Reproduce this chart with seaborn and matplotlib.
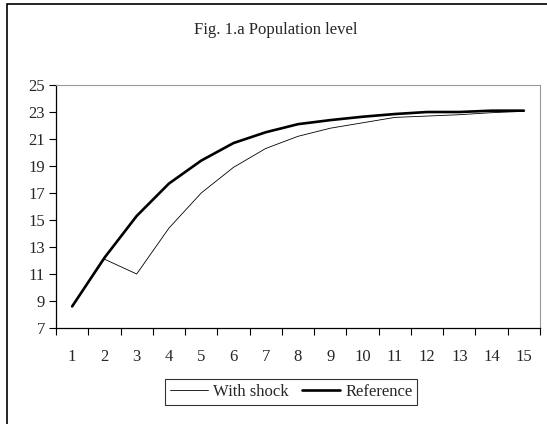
import pandas as pd
import numpy as np
import matplotlib
matplotlib.use('Agg')
import matplotlib.pyplot as plt
import matplotlib.patches as patches
from matplotlib.lines import Line2D
import seaborn as sns

# data
periods = list(range(1, 16))
with_shock = [8.6, 12.1, 11.0, 14.4, 17.0, 18.9, 20.3, 21.2, 21.8, 22.2, 22.6, 22.7, 22.8, 22.95, 23.05]
reference = [8.6, 12.2, 15.3, 17.7, 19.4, 20.7, 21.5, 22.1, 22.4, 22.65, 22.85, 23.0, 23.0, 23.1, 23.1]
y_ticks = [7, 9, 11, 13, 15, 17, 19, 21, 23, 25]

df = pd.DataFrame({'period': periods * 2,
                   'value': with_shock + reference,
                   'series': ['With shock'] * 15 + ['Reference'] * 15})

sns.set_style('white')
plt.rcParams['font.family'] = ['Liberation Serif', 'DejaVu Serif']

fig = plt.figure(figsize=(5.47, 4.24), dpi=100)
ax = fig.add_axes([0.1024, 0.2264, 0.8848, 0.5731])

sns.lineplot(data=df, x='period', y='value', hue='series', size='series',
             palette={'With shock': 'black', 'Reference': 'black'},
             sizes={'With shock': 0.6, 'Reference': 1.9},
             ax=ax, legend=False)

ax.set_xlim(0.5, 15.5)
ax.set_ylim(7, 25)
ax.set_yticks(y_ticks)
# category axis: ticks between categories, labels centred
ax.set_xticks(np.arange(0.5, 16, 1))
ax.set_xticklabels([])
ax.set_xticks(periods, minor=True)
ax.set_xticklabels([str(p) for p in periods], minor=True)
ax.tick_params(axis='x', which='major', direction='out', length=5, width=0.8, color='black', bottom=True)
ax.tick_params(axis='x', which='minor', length=0, pad=15, labelsize=12)
ax.tick_params(axis='y', direction='out', length=5, width=0.8, color='black', left=True, labelsize=12, pad=3)
ax.set_xlabel('')
ax.set_ylabel('')

for s in ['left', 'bottom']:
    ax.spines[s].set_color('black')
    ax.spines[s].set_linewidth(0.9)
for s in ['top', 'right']:
    ax.spines[s].set_color('#999999')
    ax.spines[s].set_linewidth(0.8)

fig.text(0.505, 0.93, 'Fig. 1.a Population level', ha='center', va='center', fontsize=12)

handles = [Line2D([], [], color='black', lw=0.6), Line2D([], [], color='black', lw=1.9)]
leg = fig.legend(handles, ['With shock', 'Reference'], loc='center',
                 ncol=2, fontsize=12, frameon=True, fancybox=False, handlelength=2.3,
                 handletextpad=0.3, columnspacing=0.8, borderpad=0.3)
leg.set_bbox_to_anchor((0.532, 0.075), transform=fig.transFigure)
leg.get_frame().set_edgecolor('black')
leg.get_frame().set_linewidth(0.8)

# outer chart border
fig.patches.append(patches.Rectangle((7 / 547, -0.05), 1.1, 1 - 4 / 424 + 0.05, transform=fig.transFigure,
                                     fill=False, edgecolor='black', linewidth=1.2))

fig.savefig('out.png', dpi=100)
